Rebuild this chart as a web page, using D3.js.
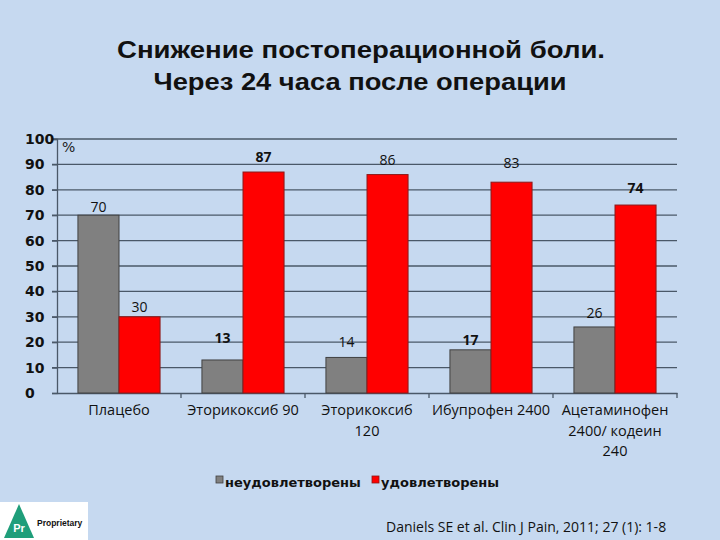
<!DOCTYPE html>
<html><head><meta charset="utf-8">
<script src="https://cdn.jsdelivr.net/npm/d3@7"></script>
<style>html,body{margin:0;padding:0;background:#c6d9f0;}svg{display:block;}</style>
</head><body>
<script>
const categories = [["Плацебо"],["Эторикоксиб 90"],["Эторикоксиб","120"],["Ибупрофен 2400"],["Ацетаминофен","2400/ кодеин","240"]];
const catKeys = ["Плацебо","Эторикоксиб 90","Эторикоксиб 120","Ибупрофен 2400","Ацетаминофен 2400/ кодеин 240"];
const seriesNames = ["неудовлетворены","удовлетворены"];
const unsatisfied = [70,13,14,17,26];
const satisfied = [30,87,86,83,74];
const yTicks = [0,10,20,30,40,50,60,70,80,90,100];
// label styling (gap above bar in px, bold flag) per series
const labelGap = [[3,17,10,5,9],[5,10,10,14,12]];
const labelBold = [[0,1,0,1,0],[0,1,0,0,1]];
const colors = ["#808080","#ff0000"];
const strokes = ["#404040","#8b1a1a"];

const W=720,H=540;
const svg=d3.select("body").append("svg").attr("width",W).attr("height",H);
svg.append("rect").attr("width",W).attr("height",H).attr("fill","#c6d9f0");

const tf="'Liberation Sans', Arial, sans-serif";
const vf="'DejaVu Sans', Verdana, sans-serif";
svg.append("text").attr("x",361).attr("y",58).attr("text-anchor","middle")
  .attr("font-family",tf).attr("font-weight","bold").attr("font-size",24).attr("fill","#111")
  .attr("textLength",488).attr("lengthAdjust","spacingAndGlyphs")
  .text("Снижение постоперационной боли.");
svg.append("text").attr("x",360).attr("y",90).attr("text-anchor","middle")
  .attr("font-family",tf).attr("font-weight","bold").attr("font-size",24).attr("fill","#111")
  .attr("textLength",413).attr("lengthAdjust","spacingAndGlyphs")
  .text("Через 24 часа после операции");

const x0=d3.scaleBand().domain(catKeys).range([57,677]).paddingInner(0).paddingOuter(0);
const x1=d3.scaleBand().domain([0,1]).range([0,x0.bandwidth()]).paddingInner(0).paddingOuter(0.51);
const y=d3.scaleLinear().domain([0,100]).range([393,139]);

svg.append("g").selectAll("line").data(yTicks.filter(d=>d>0)).join("line")
  .attr("x1",52).attr("x2",677).attr("y1",d=>y(d)).attr("y2",d=>y(d))
  .attr("stroke","#4a5868").attr("stroke-width",1.3);

const ya=svg.append("g").attr("transform","translate(57,0)")
  .call(d3.axisLeft(y).tickValues(yTicks).tickSize(5).tickPadding(7));
ya.select(".domain").attr("stroke","#4a5868").attr("stroke-width",1.3);
ya.selectAll(".tick line").attr("stroke","#4a5868").attr("stroke-width",1.3);
ya.selectAll("text").attr("font-family",vf).attr("font-weight","bold").attr("font-size",14).attr("fill","#111")
  .attr("text-anchor","start").attr("x",-32);

const xa=svg.append("g").attr("transform","translate(0,393)")
  .call(d3.axisBottom(x0).tickSize(0).tickFormat(""));
xa.select(".domain").attr("stroke","#4a5868").attr("stroke-width",1.3);
const tickXs=catKeys.slice(1).map(k=>x0(k)).concat([x0.range()[1]]);
svg.append("g").selectAll("line").data(tickXs).join("line")
  .attr("x1",d=>d).attr("x2",d=>d)
  .attr("y1",393).attr("y2",398).attr("stroke","#4a5868").attr("stroke-width",1.3);

svg.append("text").attr("x",62).attr("y",152).attr("font-family","'DejaVu Sans', sans-serif")
  .attr("font-size",14).attr("fill","#222").text("%");

const data=catKeys.map((k,i)=>({k,i,v:[unsatisfied[i],satisfied[i]]}));
const g=svg.append("g").selectAll("g").data(data).join("g").attr("transform",d=>`translate(${x0(d.k)},0)`);
g.selectAll("rect").data(d=>d.v.map((v,s)=>({v,s,i:d.i}))).join("rect")
  .attr("x",d=>x1(d.s)).attr("width",x1.bandwidth()).attr("y",d=>y(d.v)).attr("height",d=>y(0)-y(d.v))
  .attr("fill",d=>colors[d.s]).attr("stroke",d=>strokes[d.s]).attr("stroke-width",1);
g.selectAll("text").data(d=>d.v.map((v,s)=>({v,s,i:d.i}))).join("text")
  .attr("x",d=>x1(d.s)+x1.bandwidth()/2).attr("y",d=>y(d.v)-labelGap[d.s][d.i]).attr("text-anchor","middle")
  .attr("font-family","'Open Sans', sans-serif").attr("font-size",14)
  .attr("font-weight",d=>labelBold[d.s][d.i]?"bold":"normal").attr("fill","#111")
  .text(d=>d.v);

const cf="'Open Sans', 'Liberation Sans', sans-serif";
svg.append("g").selectAll("text").data(categories).join("text")
  .attr("x",(d,i)=>x0(catKeys[i])+x0.bandwidth()/2).attr("y",415).attr("text-anchor","middle")
  .attr("font-family",cf).attr("font-size",14.5).attr("fill","#111")
  .each(function(d){const xx=d3.select(this).attr("x");d3.select(this).selectAll("tspan").data(d).join("tspan")
    .attr("x",xx).attr("dy",(t,j)=>j?20.5:0).text(t=>t);});

const lg=svg.append("g");
const lx=[216,372];
seriesNames.forEach((n,i)=>{
  lg.append("rect").attr("x",lx[i]).attr("y",476).attr("width",7).attr("height",7)
    .attr("fill",colors[i]).attr("stroke",strokes[i]).attr("stroke-width",0.8);
  lg.append("text").attr("x",lx[i]+9).attr("y",487).attr("font-family",vf).attr("font-weight","bold")
    .attr("font-size",13).attr("fill","#111").text(n);
});

const lo=svg.append("g");
lo.append("rect").attr("x",0).attr("y",502).attr("width",88).attr("height",38).attr("fill","#fff");
lo.append("path").attr("d","M19,504 L34,538 L4,538 Z").attr("fill","#1f9e7a");
lo.append("text").attr("x",19).attr("y",532).attr("text-anchor","middle").attr("font-family","'Liberation Sans', sans-serif")
  .attr("font-weight","bold").attr("font-size",11).attr("fill","#fff").text("Pr");
lo.append("text").attr("x",37).attr("y",526).attr("font-family","'Liberation Sans', sans-serif")
  .attr("font-weight","bold").attr("font-size",8.5).attr("fill","#111").text("Proprietary");

svg.append("text").attr("x",386).attr("y",532).attr("font-family","'Open Sans', sans-serif")
  .attr("font-size",14).attr("fill","#111").text("Daniels SE et al. Clin J Pain, 2011; 27 (1): 1-8");
</script>
</body></html>
